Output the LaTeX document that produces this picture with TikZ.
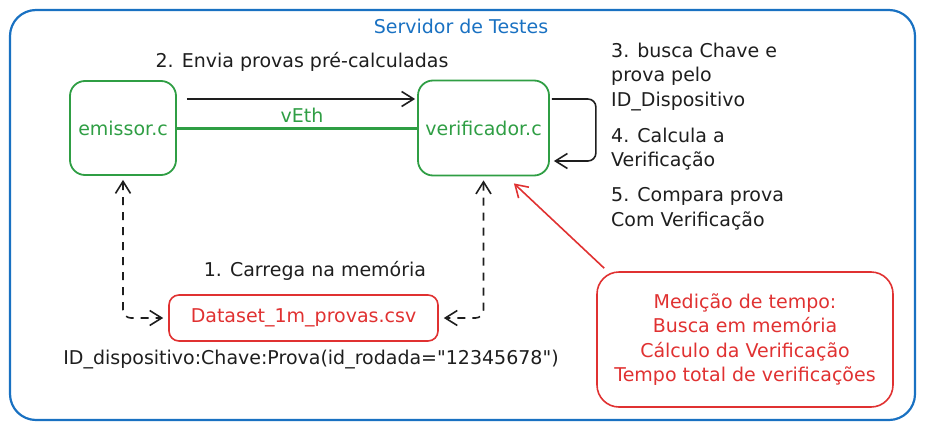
\documentclass[tikz,border=0pt]{standalone}
\usepackage{fontspec}
\setmainfont{DejaVu Sans}
\usetikzlibrary{arrows.meta,calc}
\definecolor{exgreen}{HTML}{2F9E44}
\definecolor{exred}{HTML}{E03131}
\definecolor{exblue}{HTML}{1971C2}
\definecolor{exblack}{HTML}{1E1E1E}
\tikzset{
  barb/.tip={Straight Barb[length=12pt,width=15pt,line width=1.6pt]},
  stdfont/.style={font=\fontsize{19}{24.5}\selectfont},
  procbox/.style={draw=exgreen, text=exgreen, line width=1.8pt, rounded corners=15pt, inner sep=0pt},
  filebox/.style={draw=exred, text=exred, line width=1.6pt, rounded corners=10pt, inner sep=0pt},
  notebox/.style={draw=exred, text=exred, line width=1.6pt, rounded corners=22pt, inner sep=0pt, align=center},
  lbl/.style={text=exblack, inner sep=0pt},
  steplbl/.style={text=exblack, inner sep=0pt, align=left, anchor=west},
  flow/.style={draw=exblack, line width=1.6pt, -{barb}},
  dflow/.style={draw=exblack, line width=1.6pt, dash pattern=on 8pt off 7pt, {barb}-{barb}, rounded corners=8pt},
  link/.style={draw=exgreen, line width=3pt},
  callout/.style={draw=exred, line width=1.6pt, -{barb}},
}
\begin{document}
\begin{tikzpicture}[x=1pt,y=-1pt,stdfont]
\useasboundingbox (0,0) rectangle (925,431);
% frame
\draw[exblue, line width=2.2pt, rounded corners=26pt] (10,10) rectangle (915,420);
\node[text=exblue, inner sep=0pt] (title) at (461,26) {Servidor de Testes};

% main nodes
\node[procbox, minimum width=106pt, minimum height=94pt] (emissor) at (123,128) {emissor.c};
\node[procbox, minimum width=131pt, minimum height=95pt] (verificador) at (483.5,128) {verificador.c};
\node[filebox, minimum width=269pt, minimum height=46pt] (dataset) at (303.5,318) {Dataset\_1m\_provas.csv};
\node[notebox, minimum width=296pt, minimum height=135pt] (medicao) at (745,339.5)
  {Medição de tempo:\\Busca em memória\\Cálculo da Verificação\\Tempo total de verificações};

% labels
\node[lbl] (step2) at (302,62) {2. Envia provas pré-calculadas};
\node[text=exgreen, inner sep=0pt] (veth) at (302,115) {vEth};
\node[steplbl] (step3) at (611,77) {3. busca Chave e\\prova pelo\\ID\_Dispositivo};
\node[steplbl] (step4) at (611,149) {4. Calcula a\\Verificação};
\node[steplbl] (step5) at (611,209) {5. Compara prova\\Com Verificação};
\node[lbl] (step1) at (315,271) {1. Carrega na memória};
\node[lbl] (fmt) at (311,360) {ID\_dispositivo:Chave:Prova(id\_rodada=\textquotedbl 12345678\textquotedbl)};

% connectors
\draw[flow] ($(emissor.east)+(10,-29)$) -- ($(verificador.west)+(-2,-29)$);
\draw[link] (emissor.east) -- (verificador.west);
\draw[flow, rounded corners=8pt] ($(verificador.east)+(2,-29)$) -- ++(44,0) -- ++(0,62) -- ($(verificador.east)+(4,33)$);
\draw[dflow] ($(emissor.south)+(0,4)$) |- ($(dataset.west)+(-5,0)$);
\draw[dflow] ($(verificador.south)+(0,4)$) |- ($(dataset.east)+(5,0)$);
\coordinate (calloutend) at ($(verificador.south east)+(-36,7)$);
\draw[callout] ($(medicao.north west)+(8,-3)$) -- (calloutend);
\end{tikzpicture}
\end{document}
